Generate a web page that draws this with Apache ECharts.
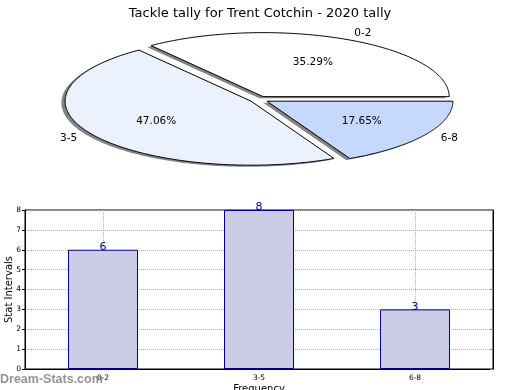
<!DOCTYPE html>
<html><head><meta charset="utf-8">
<script src="https://cdn.jsdelivr.net/npm/echarts@6/dist/echarts.min.js"></script>
<style>html,body{margin:0;padding:0;background:#fff}#c{width:520px;height:390px}</style>
</head><body><div id="c"></div>
<script>
const titleText = 'Tackle tally for Trent Cotchin - 2020 tally';
const categories = ['0-2', '3-5', '6-8'];
const tallies = [6, 8, 3];
const sliceColors = ['#ffffff', '#ebf1fd', '#c6d9fc'];
const yTicks = [0, 1, 2, 3, 4, 5, 6, 7, 8];

const FONT = 'DejaVu Sans';
const total = tallies.reduce((a, b) => a + b, 0);
const percentLabels = tallies.map(v => (v / total * 100).toFixed(2) + '%');

function renderSlice(params, api) {
  const i = params.dataIndex;
  let before = 0;
  for (let k = 0; k < i; k++) before += tallies[k];
  const a0 = before / total * 2 * Math.PI;
  const a1 = (before + tallies[i]) / total * 2 * Math.PI;
  const mid = (a0 + a1) / 2;
  const ex = 0.05;
  const ox = ex * Math.cos(mid), oy = ex * Math.sin(mid);
  const sdx = -0.02, sdy = -0.025;
  const pts = [api.coord([ox, oy])];
  const sh = [api.coord([ox + sdx, oy + sdy])];
  const n = 160;
  for (let k = 0; k <= n; k++) {
    const a = a0 + (a1 - a0) * k / n;
    pts.push(api.coord([ox + Math.cos(a), oy + Math.sin(a)]));
    sh.push(api.coord([ox + sdx + Math.cos(a), oy + sdy + Math.sin(a)]));
  }
  const pp = api.coord([ox + 0.6 * Math.cos(mid), oy + 0.6 * Math.sin(mid)]);
  const lp = api.coord([ox + 1.1 * Math.cos(mid), oy + 1.1 * Math.sin(mid)]);
  return {
    type: 'group',
    children: [
      { type: 'polygon', z2: 1, shape: { points: sh }, style: { fill: 'rgba(50,50,50,0.6)', stroke: null } },
      { type: 'polygon', z2: 10, shape: { points: pts }, style: { fill: sliceColors[i], stroke: '#000', lineWidth: 1 } },
      { type: 'text', z2: 20, style: { text: percentLabels[i], x: pp[0], y: pp[1], align: 'center', verticalAlign: 'middle', fontSize: 10.5, fontFamily: FONT, fill: '#000' } },
      { type: 'text', z2: 20, style: { text: categories[i], x: lp[0], y: lp[1], align: Math.cos(mid) >= 0 ? 'left' : 'right', verticalAlign: 'middle', fontSize: 10.5, fontFamily: FONT, fill: '#000' } }
    ]
  };
}

const chart = echarts.init(document.getElementById('c'), null, { renderer: 'canvas' });
chart.setOption({
  animation: false,
  backgroundColor: '#fff',
  textStyle: { fontFamily: FONT },
  title: { text: titleText, left: 'center', top: 2, textStyle: { fontSize: 13, fontWeight: 'normal', color: '#000', fontFamily: FONT } },
  grid: [
    { left: 73, top: 35.5, width: 372, height: 128, show: false, containLabel: false, outerBoundsMode: 'none' },
    { left: 25, right: 27, top: 210, bottom: 21, show: true, borderColor: '#000', borderWidth: 1, backgroundColor: 'transparent', containLabel: false, outerBoundsMode: 'none' }
  ],
  xAxis: [
    { gridIndex: 0, type: 'value', min: -1, max: 1, show: false },
    { gridIndex: 1, type: 'category', data: categories,
      name: 'Frequency', nameLocation: 'middle', nameGap: 15, nameMoveOverlap: false, nameTextStyle: { fontSize: 10, color: '#000', fontFamily: FONT },
      axisLine: { show: true, lineStyle: { color: '#000' } },
      axisTick: { show: true, alignWithLabel: true, inside: true, length: 3, lineStyle: { color: '#888' } },
      axisLabel: { fontSize: 7.5, color: '#000', margin: 5, fontFamily: FONT },
      splitLine: { show: true, alignWithLabel: true, lineStyle: { color: '#b0b0b0', type: 'dotted', width: 1 } }
    }
  ],
  yAxis: [
    { gridIndex: 0, type: 'value', min: -1, max: 1, show: false },
    { gridIndex: 1, type: 'value', min: 0, max: 8, interval: 1,
      name: 'Stat Intervals', nameLocation: 'middle', nameGap: 11, nameMoveOverlap: false, nameRotate: 90, nameTextStyle: { fontSize: 10, color: '#000', fontFamily: FONT },
      axisLine: { show: true, lineStyle: { color: '#000' } },
      axisTick: { show: true, inside: false, length: 3, lineStyle: { color: '#000' } },
      axisLabel: { fontSize: 7.5, color: '#000', margin: 4, fontFamily: FONT },
      splitLine: { show: true, lineStyle: { color: '#b0b0b0', type: 'dotted', width: 1 } }
    },
    { gridIndex: 1, type: 'value', min: 0, max: 8, interval: 1, position: 'right',
      axisLine: { show: true, lineStyle: { color: '#000' } },
      axisTick: { show: true, inside: true, length: 3, lineStyle: { color: '#888' } },
      axisLabel: { show: false }, splitLine: { show: false }
    }
  ],
  graphic: [
    { type: 'text', left: 0, top: 373, z: 100, style: { text: 'Dream-Stats.com', fontSize: 12.5, fontWeight: 'bold', fontFamily: 'Liberation Sans', fill: 'rgba(120,120,120,0.8)' } }
  ],
  series: [
    { type: 'custom', xAxisIndex: 0, yAxisIndex: 0, clip: false, renderItem: renderSlice, data: categories.map(() => [0, 0]) },
    { type: 'bar', xAxisIndex: 1, yAxisIndex: 1, data: tallies, barWidth: 70,
      itemStyle: { color: '#ccccE6', borderColor: '#00008b', borderWidth: 1 },
      label: { show: true, position: 'top', distance: -3, fontSize: 11, color: '#00008b', fontFamily: FONT }
    }
  ]
});
</script></body></html>
